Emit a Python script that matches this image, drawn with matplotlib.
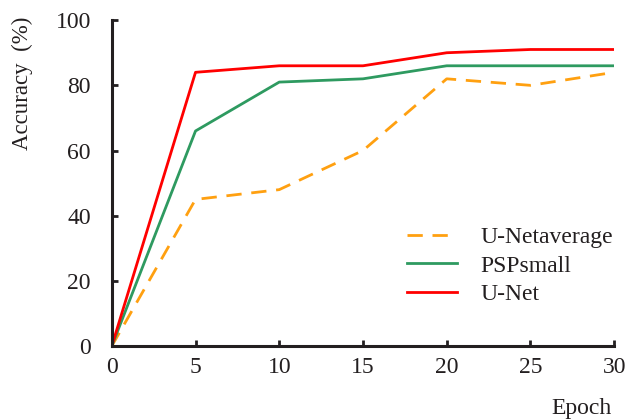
import matplotlib.pyplot as plt

plt.rcParams['font.family'] = ['Liberation Serif', 'DejaVu Serif']

# ======== Data ========
epochs = [0, 5, 10, 15, 20, 25, 30]
unet_avg = [0, 45, 48, 60, 82, 80, 84]
psp_small = [0, 66, 81, 82, 86, 86, 86]
unet = [0, 84, 86, 86, 90, 91, 91]

series_names = ['U-Netaverage', 'PSPsmall', 'U-Net']
x_ticks = [0, 5, 10, 15, 20, 25, 30]
y_ticks = [0, 20, 40, 60, 80, 100]

fig = plt.figure(figsize=(6.28, 4.2), dpi=100)
ax = fig.add_axes([0.178, 0.176, 0.800, 0.776])

ax.plot(epochs, unet_avg, color='#FFA010', linewidth=2.0,
        dashes=(5.5, 3.5), label=series_names[0])
ax.plot(epochs, psp_small, color='#2E9A60', linewidth=2.0, label=series_names[1])
ax.plot(epochs, unet, color='#FF0000', linewidth=2.0, label=series_names[2])

ax.set_xlim(0, 30)
ax.set_ylim(0, 100)
ax.set_xticks(x_ticks)
ax.set_yticks(y_ticks)

for side in ['top', 'right']:
    ax.spines[side].set_visible(False)
for side in ['left', 'bottom']:
    ax.spines[side].set_linewidth(2.2)
    ax.spines[side].set_color('#231F20')

ax.tick_params(direction='in', length=4, width=2, colors='#231F20',
               labelsize=17, labelcolor='#231F20')
ax.tick_params(axis='x', pad=8)
ax.tick_params(axis='y', pad=15)

ax.text(0.995, -0.16, 'Epoch', transform=ax.transAxes, ha='right', va='top',
        fontsize=17, color='#231F20')
fig.text(0.035, 0.643, 'Accuracy  (%)', rotation=90, ha='center', va='bottom',
         fontsize=16.5, color='#231F20')

ax.legend(loc='lower right', bbox_to_anchor=(1.04, 0.06), frameon=False,
          fontsize=17, handlelength=2.1, handletextpad=1.0, labelspacing=0.3,
          labelcolor='#231F20')

fig.savefig('out.png', dpi=100)
